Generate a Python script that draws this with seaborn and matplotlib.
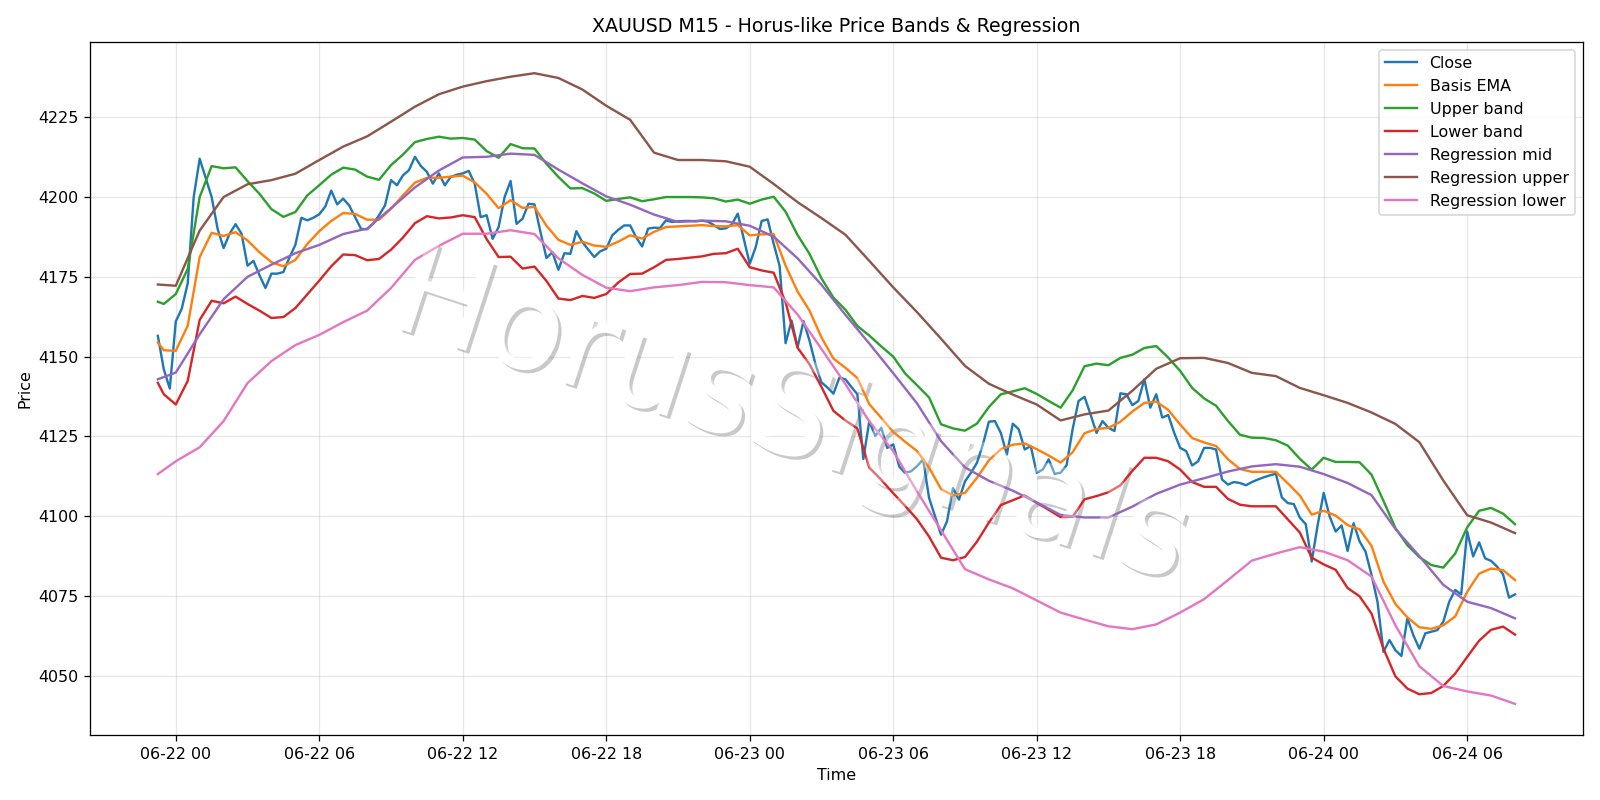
import matplotlib
matplotlib.use("Agg")
import matplotlib.pyplot as plt
import matplotlib.dates as mdates
import matplotlib.patheffects as pe
import pandas as pd
import seaborn as sns

# XAUUSD M15 bars, 06-21 23:15 -> 06-24 08:00
times = pd.date_range("2025-06-21 23:15", periods=228, freq="15min")

close = [
    4156.5, 4146.0, 4140.0, 4161.0, 4165.0, 4173.0, 4200.0, 4212.0, 4206.0, 4200.0,
    4190.0, 4184.0, 4188.5, 4191.5, 4188.5, 4178.5, 4180.0, 4175.5, 4171.5, 4176.0,
    4176.0, 4176.5, 4181.0, 4185.0, 4193.5, 4192.7, 4193.5, 4194.6, 4197.0, 4202.0,
    4197.7, 4199.5, 4197.4, 4193.7, 4190.0, 4189.9, 4191.6, 4194.3, 4197.4, 4205.3,
    4203.7, 4206.8, 4208.4, 4212.6, 4209.7, 4207.9, 4204.2, 4207.4, 4203.7, 4206.3,
    4207.0, 4207.4, 4208.2, 4204.2, 4193.7, 4194.3, 4186.9, 4190.6, 4200.0, 4205.0,
    4191.6, 4193.2, 4197.9, 4197.7, 4189.0, 4180.9, 4182.7, 4177.2, 4182.4, 4182.2,
    4189.3, 4185.9, 4183.5, 4181.2, 4183.0, 4183.8, 4188.0, 4189.7, 4191.1, 4191.1,
    4187.4, 4184.5, 4190.1, 4190.4, 4190.3, 4192.7, 4192.2, 4192.4, 4192.5, 4192.5,
    4192.4, 4192.6, 4192.3, 4191.2, 4190.0, 4190.2, 4191.4, 4194.8, 4187.0, 4179.1,
    4184.3, 4192.5, 4193.0, 4185.4, 4178.4, 4154.2, 4161.3, 4152.9, 4161.1, 4155.0,
    4147.6, 4141.9, 4140.3, 4138.4, 4143.4, 4142.9, 4140.5, 4138.2, 4117.9, 4129.8,
    4125.1, 4127.7, 4121.4, 4122.5, 4115.6, 4113.5, 4114.1, 4115.7, 4117.8, 4105.7,
    4099.9, 4094.2, 4098.4, 4108.8, 4105.2, 4110.9, 4113.6, 4116.7, 4122.5, 4129.6,
    4129.8, 4126.1, 4119.3, 4129.0, 4127.2, 4120.9, 4122.0, 4113.6, 4114.6, 4117.8,
    4113.3, 4113.6, 4116.0, 4127.2, 4136.1, 4137.4, 4131.9, 4126.1, 4129.8, 4127.7,
    4126.7, 4138.5, 4138.2, 4134.8, 4136.1, 4142.9, 4134.0, 4138.2, 4130.9, 4131.7,
    4126.1, 4121.4, 4120.4, 4115.9, 4117.2, 4121.4, 4121.4, 4120.9, 4111.5, 4109.9,
    4110.7, 4110.4, 4109.7, 4110.7, 4111.5, 4112.2, 4112.8, 4113.3, 4105.9, 4104.1,
    4103.8, 4099.6, 4097.5, 4085.8, 4097.3, 4107.3, 4099.9, 4095.2, 4097.1, 4089.1,
    4097.8, 4092.1, 4088.9, 4081.6, 4073.2, 4057.5, 4061.2, 4058.0, 4056.2, 4068.0,
    4062.7, 4058.5, 4063.3, 4063.8, 4064.3, 4066.9, 4073.2, 4076.9, 4075.5, 4095.2,
    4087.4, 4091.8, 4086.8, 4086.0, 4084.2, 4081.8, 4074.5, 4075.5,
]

# band values read every 30 minutes
half_idx = [0] + list(range(1, 228, 2))

basis_ema = [
    4154.4, 4152.0, 4151.8, 4159.7, 4181.2, 4188.8, 4187.8, 4189.0, 4186.4, 4182.7,
    4179.6, 4178.3, 4180.3, 4185.3, 4189.3, 4192.5, 4195.0, 4194.7, 4192.9, 4192.9,
    4196.3, 4200.5, 4204.5, 4206.0, 4206.0, 4206.4, 4206.7, 4204.6, 4201.0, 4196.5,
    4199.0, 4196.6, 4196.9, 4191.0, 4186.6, 4185.0, 4186.0, 4184.8, 4184.4, 4186.0,
    4188.0, 4187.0, 4189.1, 4190.6, 4190.8, 4191.0, 4191.2, 4190.9, 4190.8, 4191.2,
    4188.0, 4188.3, 4188.4, 4178.5, 4170.4, 4164.4, 4156.0, 4149.4, 4146.5, 4143.3,
    4135.1, 4130.8, 4126.4, 4123.3, 4120.4, 4115.2, 4108.5, 4106.5, 4107.3, 4112.0,
    4117.5, 4121.0, 4122.4, 4122.8, 4121.0, 4119.0, 4116.8, 4120.0, 4126.0, 4127.3,
    4127.7, 4129.6, 4132.8, 4135.5, 4135.9, 4133.3, 4128.7, 4124.5, 4123.1, 4122.0,
    4117.8, 4114.8, 4113.9, 4113.9, 4113.9, 4110.3, 4106.5, 4100.5, 4101.7, 4100.2,
    4097.2, 4095.9, 4090.7, 4079.5, 4072.5, 4068.3, 4065.2, 4064.7, 4065.8, 4068.6,
    4076.3, 4082.0, 4083.6, 4083.1, 4080.0,
]

upper_band = [
    4167.2, 4166.5, 4169.6, 4177.5, 4200.0, 4209.7, 4209.0, 4209.3, 4205.0, 4201.0,
    4196.2, 4193.8, 4195.3, 4200.5, 4203.7, 4207.0, 4209.2, 4208.6, 4206.4, 4205.4,
    4210.0, 4213.3, 4217.2, 4218.2, 4218.9, 4218.3, 4218.5, 4218.0, 4214.4, 4212.3,
    4216.6, 4215.3, 4215.2, 4210.4, 4206.3, 4202.7, 4202.8, 4201.1, 4198.8, 4199.4,
    4199.9, 4198.7, 4199.3, 4200.0, 4200.0, 4200.0, 4199.9, 4199.6, 4198.6, 4199.2,
    4197.9, 4199.2, 4200.1, 4195.4, 4188.1, 4182.2, 4174.5, 4168.5, 4164.7, 4159.6,
    4156.6, 4153.2, 4150.0, 4144.7, 4141.0, 4137.2, 4128.8, 4127.5, 4126.8, 4129.0,
    4134.2, 4138.2, 4139.1, 4140.1, 4138.3, 4136.1, 4134.0, 4139.4, 4147.0, 4147.8,
    4147.3, 4149.6, 4150.6, 4152.7, 4153.3, 4149.7, 4145.5, 4140.2, 4136.9, 4134.6,
    4129.8, 4125.5, 4124.6, 4124.5, 4123.8, 4122.1, 4118.0, 4114.6, 4118.3, 4117.0,
    4117.0, 4116.9, 4113.0, 4104.8, 4096.3, 4090.9, 4087.2, 4084.7, 4083.9, 4088.3,
    4096.5, 4101.7, 4102.6, 4100.8, 4097.5,
]

lower_band = [
    4141.8, 4138.2, 4135.0, 4142.4, 4161.5, 4167.5, 4166.7, 4168.8, 4166.5, 4164.4,
    4162.1, 4162.4, 4165.2, 4169.5, 4173.8, 4178.3, 4182.0, 4181.8, 4180.2, 4180.6,
    4183.5, 4187.3, 4191.8, 4194.0, 4193.3, 4193.6, 4194.3, 4193.7, 4186.8, 4181.2,
    4181.3, 4177.6, 4178.2, 4173.7, 4168.2, 4167.7, 4169.0, 4168.4, 4169.6, 4173.2,
    4175.9, 4176.0, 4178.0, 4180.3, 4180.6, 4181.0, 4181.4, 4182.2, 4182.4, 4183.8,
    4178.0, 4177.0, 4176.3, 4167.0, 4152.8, 4147.6, 4140.5, 4133.0, 4130.0, 4127.5,
    4115.2, 4111.4, 4107.2, 4103.2, 4099.0, 4093.6, 4087.0, 4086.2, 4087.2, 4092.0,
    4098.0, 4103.5, 4105.0, 4106.5, 4104.2, 4102.0, 4099.7, 4099.8, 4105.3, 4106.3,
    4107.5, 4109.7, 4114.2, 4118.3, 4118.3, 4117.2, 4114.6, 4110.7, 4109.2, 4109.2,
    4105.4, 4103.6, 4103.1, 4103.1, 4103.1, 4099.0, 4094.9, 4087.0, 4084.9, 4083.2,
    4077.5, 4074.9, 4069.5, 4058.5, 4049.8, 4046.0, 4044.2, 4044.6, 4046.8, 4050.7,
    4055.9, 4061.0, 4064.4, 4065.4, 4062.9,
]

# regression channel read every hour
hour_idx = [0] + list(range(3, 228, 4))

reg_mid = [
    4142.9, 4145.0, 4157.0, 4168.0, 4175.0, 4178.8, 4182.4, 4185.0,
    4188.4, 4190.1, 4196.5, 4203.0, 4208.3, 4212.4, 4212.6, 4213.6,
    4213.2, 4208.6, 4204.3, 4200.2, 4197.6, 4194.5, 4192.2, 4192.6,
    4192.4, 4191.0, 4187.6, 4180.8, 4172.5, 4163.1, 4154.1, 4144.8,
    4135.3, 4123.5, 4115.3, 4111.1, 4108.0, 4104.3, 4100.4, 4099.6,
    4099.6, 4103.0, 4107.0, 4109.9, 4111.9, 4114.0, 4115.6, 4116.3,
    4115.5, 4113.2, 4110.4, 4106.6, 4096.0, 4087.5, 4078.5, 4073.2, 4071.2, 4068.0,
]

reg_upper = [
    4172.6, 4172.2, 4189.5, 4200.0, 4204.0, 4205.3, 4207.3, 4211.6,
    4215.8, 4219.0, 4223.6, 4228.3, 4232.2, 4234.6, 4236.3, 4237.7,
    4238.8, 4237.3, 4233.7, 4228.6, 4224.2, 4213.9, 4211.6, 4211.6,
    4211.2, 4209.5, 4204.1, 4198.4, 4193.4, 4188.2, 4180.0, 4171.7,
    4163.9, 4155.6, 4147.1, 4141.5, 4138.1, 4135.0, 4130.0, 4131.9,
    4133.1, 4139.3, 4146.2, 4149.5, 4149.6, 4148.0, 4144.9, 4143.9,
    4140.2, 4137.9, 4135.5, 4132.5, 4128.9, 4123.2, 4111.2, 4100.3, 4098.0, 4094.7,
]

reg_lower = [
    4113.2, 4117.2, 4121.6, 4129.8, 4141.7, 4148.6, 4153.6, 4156.8,
    4160.8, 4164.4, 4171.5, 4180.3, 4184.7, 4188.5, 4188.5, 4189.6,
    4188.4, 4180.8, 4175.6, 4171.6, 4170.5, 4171.7, 4172.4, 4173.4,
    4173.3, 4172.4, 4171.7, 4163.2, 4152.4, 4141.4, 4129.7, 4120.4,
    4107.7, 4095.6, 4083.4, 4080.2, 4077.4, 4073.6, 4069.8, 4067.6,
    4065.5, 4064.6, 4066.1, 4069.8, 4074.0, 4080.0, 4086.1, 4088.3,
    4090.3, 4088.9, 4086.2, 4081.1, 4065.8, 4053.0, 4046.8, 4045.1, 4043.8, 4041.2,
]

DPI = 1600 / 14
fig, ax = plt.subplots(figsize=(14, 7), dpi=DPI)

lines = [
    ("Close", times, close, "C0"),
    ("Basis EMA", times[half_idx], basis_ema, "C1"),
    ("Upper band", times[half_idx], upper_band, "C2"),
    ("Lower band", times[half_idx], lower_band, "C3"),
    ("Regression mid", times[hour_idx], reg_mid, "C4"),
    ("Regression upper", times[hour_idx], reg_upper, "C5"),
    ("Regression lower", times[hour_idx], reg_lower, "C6"),
]
for label, x, y, color in lines:
    sns.lineplot(x=x, y=y, ax=ax, label=label, color=color, linewidth=1.5)

ax.xaxis.set_major_locator(mdates.HourLocator(byhour=[0, 6, 12, 18]))
ax.xaxis.set_major_formatter(mdates.DateFormatter("%m-%d %H"))
ax.grid(True, alpha=0.3)
ax.set_title("XAUUSD M15 - Horus-like Price Bands & Regression")
ax.set_xlabel("Time")
ax.set_ylabel("Price")
ax.legend(loc="upper right")

# watermark: white letters with a soft drop shadow, lines show through
wm = dict(s="HorusSignals", transform=ax.transAxes, fontsize=80, color="white",
          rotation=-18, ha="center", va="center")
ax.text(0.47, 0.455, zorder=1.6,
        path_effects=[pe.withSimplePatchShadow(offset=(2, -2))], **wm)
ax.text(0.47, 0.455, zorder=3, alpha=0.35, **wm)

plt.tight_layout()
plt.savefig("out.png", dpi=DPI)
